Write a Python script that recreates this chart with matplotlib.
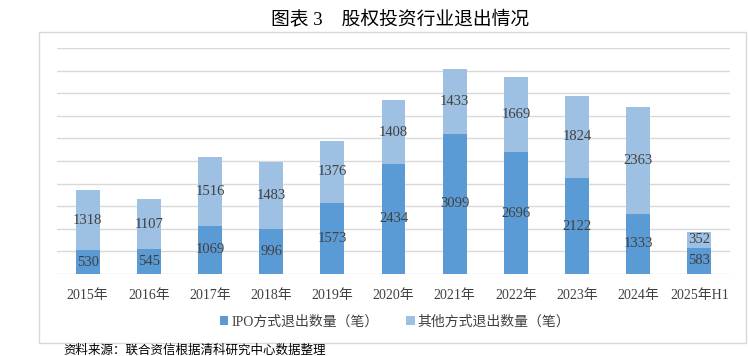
import matplotlib
matplotlib.use("Agg")
import matplotlib.pyplot as plt
from matplotlib.patches import Rectangle, Patch
import numpy as np

categories = ["2015年", "2016年", "2017年", "2018年", "2019年", "2020年",
              "2021年", "2022年", "2023年", "2024年", "2025年H1"]
ipo_exits = [530, 545, 1069, 996, 1573, 2434, 3099, 2696, 2122, 1333, 583]
other_exits = [1318, 1107, 1516, 1483, 1376, 1408, 1433, 1669, 1824, 2363, 352]
series_names = ["IPO方式退出数量（笔）", "其他方式退出数量（笔）"]
title = "图表 3    股权投资行业退出情况"
source = "资料来源：联合资信根据清科研究中心数据整理"

fam = ["Liberation Serif", "Noto Sans CJK SC", "DejaVu Sans"]
plt.rcParams["font.family"] = fam

W, H = 748, 356
fig = plt.figure(figsize=(W / 100, H / 100), dpi=100)

# outer frame
fig.add_artist(Rectangle((39 / W, (H - 343) / H), 707 / W, 311 / H,
                         transform=fig.transFigure, fill=False,
                         edgecolor="#D9D9D9", linewidth=1.0))

ax = fig.add_axes([57 / W, (H - 274) / H, 673 / W, 226 / H])
x = np.arange(len(categories))
c_ipo = "#5B9BD5"
c_oth = "#9DC0E3"
bw = 0.39
ax.bar(x, ipo_exits, width=bw, color=c_ipo, zorder=3)
ax.bar(x, other_exits, width=bw, bottom=ipo_exits, color=c_oth, zorder=3)

for i in range(len(categories)):
    ax.text(x[i], ipo_exits[i] / 2, str(ipo_exits[i]), ha="center", va="center",
            fontsize=10.5, color="#404040", zorder=4)
    ax.text(x[i], ipo_exits[i] + other_exits[i] / 2, str(other_exits[i]),
            ha="center", va="center", fontsize=10.5, color="#404040", zorder=4)

ax.set_xlim(-0.5, len(categories) - 0.5)
ax.set_ylim(0, 5000)
ax.set_yticks(np.arange(0, 5001, 500))
ax.yaxis.grid(True, color="#D9D9D9", linewidth=1.0, zorder=0)
ax.set_axisbelow(True)
ax.tick_params(axis="y", left=False, labelleft=False)
ax.tick_params(axis="x", length=0, pad=11, labelsize=10, labelcolor="#404040")
ax.set_xticks(x)
ax.set_xticklabels(categories)
for s in ax.spines.values():
    s.set_visible(False)

handles = [Patch(facecolor=c_ipo), Patch(facecolor=c_oth)]
fig.legend(handles, series_names, loc="center", bbox_to_anchor=(395 / W, (H - 322) / H),
           ncol=2, frameon=False, fontsize=10, handlelength=0.6, handleheight=0.6,
           handletextpad=0.2, columnspacing=2.0, labelcolor="#404040")

fig.text(400 / W, (H - 19) / H, title, ha="center", va="center", fontsize=13.5,
         color="#000000", family=["Liberation Serif", "Noto Sans CJK SC"])
fig.text(63 / W, (H - 350) / H, source, ha="left", va="center", fontsize=9,
         color="#000000", family=["Noto Sans CJK SC", "DejaVu Sans"])

fig.savefig("out.png", dpi=100)
